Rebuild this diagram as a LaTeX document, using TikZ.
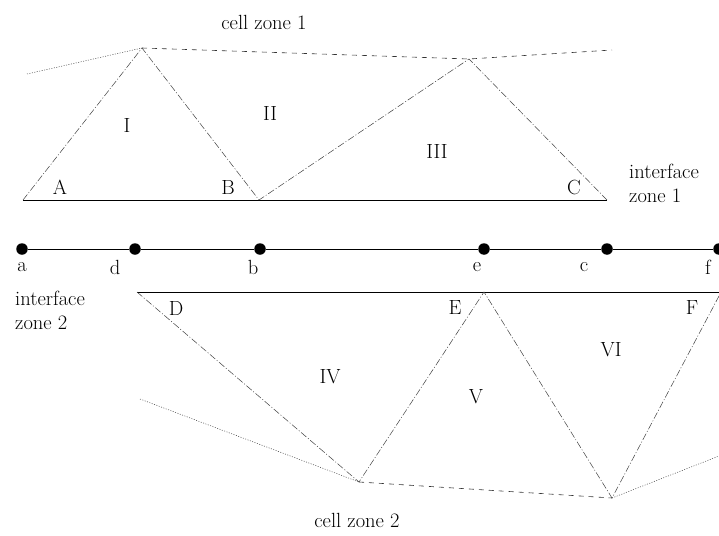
\documentclass[tikz,border=0pt]{standalone}
\begin{document}
\begin{tikzpicture}[x=1pt,y=-1pt,
  lbl/.style={inner sep=0pt,font=\fontsize{20.5}{24}\selectfont},
  dotn/.style={circle,fill=black,inner sep=0pt,minimum size=11.5pt},
  iface/.style={line width=0.8pt},
  edge/.style={line width=0.5pt,black!75,dash pattern=on 7pt off 2pt on 1pt off 2pt},
  outer/.style={line width=0.5pt,black!75,dash pattern=on 1pt off 1.5pt},
  zone/.style={line width=0.6pt,black!80,dash pattern=on 5pt off 5pt}]
\useasboundingbox (0,0) rectangle (719,535);
% top points
\coordinate (L1) at (27,74);
\coordinate (P1) at (142,48);
\coordinate (P2) at (469,59);
\coordinate (R1) at (612,50);
\coordinate (IA) at (23,200);
\coordinate (IB) at (259,200);
\coordinate (IC) at (607,200);
% interface zone 1
\draw[iface] (IA) -- (IC);
\draw[edge] (IA) -- (P1) -- (IB) -- (P2) -- (IC);
\draw[outer] (L1) -- (P1);
\draw[zone] (P1) -- (P2) -- (R1);
% middle line
\node[dotn] (a) at (22,249) {};
\node[dotn] (d) at (135,249) {};
\node[dotn] (b) at (260,249) {};
\node[dotn] (e) at (484,249) {};
\node[dotn] (c) at (607,249) {};
\node[dotn] (f) at (719,249) {};
\draw[iface] (a) -- (d) -- (b) -- (e) -- (c) -- (f);
% bottom points
\coordinate (ID) at (137,292);
\coordinate (IE) at (484,292);
\coordinate (IF) at (719,292);
\coordinate (Q1) at (359,482);
\coordinate (Q2) at (612,498);
\coordinate (L2) at (140,399);
\coordinate (R2) at (719,456);
\coordinate (F2) at (719,296);
\draw[iface] (ID) -- (IF);
\draw[edge] (ID) -- (Q1) -- (IE) -- (Q2) -- (F2);
\draw[outer] (L2) -- (Q1);
\draw[outer] (Q2) -- (R2);
\draw[zone] (Q1) -- (Q2);
% labels
\node[lbl] (cz1) at (264,22) {cell zone 1};
\node[lbl] (cz2) at (357,520) {cell zone 2};
\node[lbl,align=left,anchor=west] (iz1) at (629,183) {interface\\zone 1};
\node[lbl,align=left,anchor=west] (iz2) at (15,310) {interface\\zone 2};
\node[lbl] (A) at (60,187) {A};
\node[lbl] (B) at (228,187) {B};
\node[lbl] (C) at (574,187) {C};
\node[lbl] (D) at (176,308) {D};
\node[lbl] (E) at (455,308) {E};
\node[lbl] (F) at (692,308) {F};
\node[lbl] (r1) at (127,125) {I};
\node[lbl] (r2) at (270,113) {II};
\node[lbl] (r3) at (437,151) {III};
\node[lbl] (r4) at (330,377) {IV};
\node[lbl] (r5) at (476,397) {V};
\node[lbl] (r6) at (611,350) {VI};
\node[lbl] (la) at (22,267) {a};
\node[lbl] (ld) at (115,267) {d};
\node[lbl] (lb) at (253,267) {b};
\node[lbl] (le) at (477,267) {e};
\node[lbl] (lc) at (584,267) {c};
\node[lbl] (lf) at (708,267) {f};
\end{tikzpicture}
\end{document}
